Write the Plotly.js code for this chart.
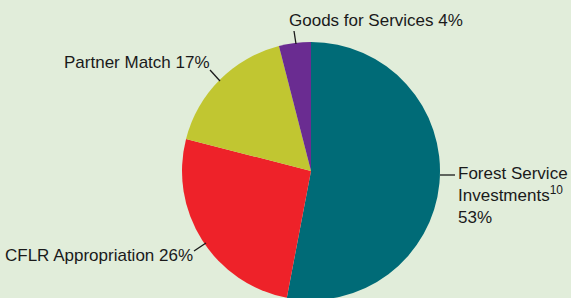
<!DOCTYPE html>
<html><head><meta charset="utf-8">
<script src="https://cdn.plot.ly/plotly-3.0.1.min.js"></script>
<style>html,body{margin:0;padding:0;overflow:hidden;background:#e1edda;width:571px;height:298px}</style>
</head><body><div id="chart" style="width:571px;height:340px"></div>
<script>
const categories = ["Forest Service Investments", "CFLR Appropriation", "Partner Match", "Goods for Services"];
const values = [53, 26, 17, 4];
const colors = ["#006b77", "#ee2229", "#c1c631", "#6a2c91"];
const labelTexts = ["Forest Service<br>Investments<sup>10</sup><br>53%", "CFLR Appropriation 26%", "Partner Match 17%", "Goods for Services 4%"];

const W = 571, H = 340;
const px = x => x / W, py = y => 1 - y / H;
const font = {family: "Liberation Sans, Arial, sans-serif", size: 17, color: "#1a1a1a"};

const data = [{
  type: "pie", values: values, labels: categories, sort: false, direction: "clockwise", rotation: 0,
  marker: {colors: colors, line: {width: 0}}, textinfo: "none", hoverinfo: "label+percent",
  domain: {x: [px(182), px(440)], y: [py(300), py(42)]}, showlegend: false
}];

const lines = [
  [440, 175, 455, 175],
  [194, 251, 206, 243],
  [210, 70, 220, 81],
  [294, 31, 296, 44]
];
const anns = [
  {x: px(456), y: py(196), text: labelTexts[0], xanchor: "left", yanchor: "middle", align: "left"},
  {x: px(195), y: py(255), text: labelTexts[1], xanchor: "right", yanchor: "middle"},
  {x: px(212), y: py(62), text: labelTexts[2], xanchor: "right", yanchor: "middle"},
  {x: px(287), y: py(20), text: labelTexts[3], xanchor: "left", yanchor: "middle"}
].map(a => Object.assign({xref: "paper", yref: "paper", showarrow: false, font: font}, a));

const shapes = lines.map(l => ({type: "line", xref: "paper", yref: "paper",
  x0: px(l[0]), y0: py(l[1]), x1: px(l[2]), y1: py(l[3]), line: {color: "#1a1a1a", width: 1.3}}));

Plotly.newPlot("chart", data, {
  width: W, height: H, margin: {l: 0, r: 0, t: 0, b: 0},
  paper_bgcolor: "#e1edda", plot_bgcolor: "#e1edda",
  annotations: anns, shapes: shapes
}, {displayModeBar: false, staticPlot: true});
</script></body></html>
